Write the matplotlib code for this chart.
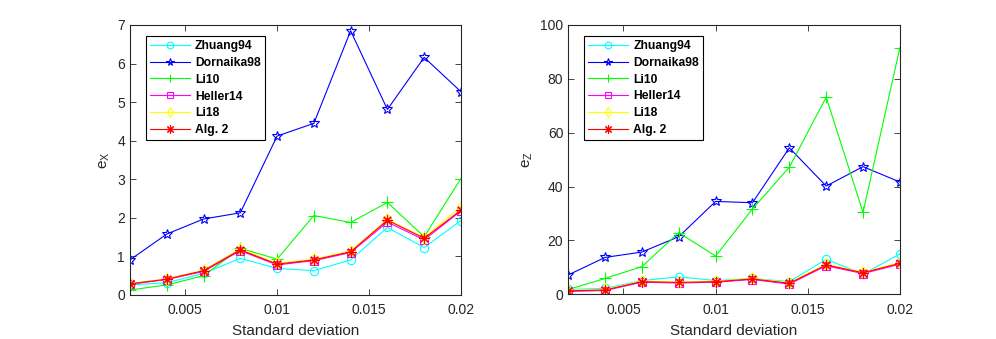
import matplotlib
matplotlib.use("Agg")
import matplotlib.pyplot as plt

plt.rcParams['font.family'] = ['Liberation Sans', 'DejaVu Sans']
plt.rcParams['mathtext.fontset'] = 'custom'
plt.rcParams['mathtext.rm'] = 'Liberation Sans'

std_dev = [0.002, 0.004, 0.006, 0.008, 0.010, 0.012, 0.014, 0.016, 0.018, 0.020]
methods = ['Zhuang94', 'Dornaika98', 'Li10', 'Heller14', 'Li18', 'Alg. 2']

# e_X (left panel)
ex_zhuang94 = [0.26, 0.32, 0.56, 0.95, 0.69, 0.63, 0.91, 1.75, 1.23, 1.93]
ex_dornaika98 = [0.91, 1.58, 1.97, 2.13, 4.12, 4.45, 6.85, 4.81, 6.16, 5.27]
ex_li10 = [0.13, 0.26, 0.50, 1.21, 0.93, 2.06, 1.88, 2.40, 1.51, 3.02]
ex_heller14 = [0.28, 0.40, 0.61, 1.15, 0.78, 0.89, 1.10, 1.89, 1.43, 2.18]
ex_li18 = [0.30, 0.42, 0.64, 1.20, 0.82, 0.93, 1.14, 1.96, 1.49, 2.29]
ex_alg2 = [0.29, 0.41, 0.63, 1.17, 0.80, 0.91, 1.12, 1.94, 1.47, 2.20]

# e_Z (right panel)
ez_zhuang94 = [1.8, 2.2, 5.1, 6.5, 5.1, 5.9, 4.7, 13.0, 7.5, 15.0]
ez_dornaika98 = [7.2, 13.7, 15.7, 21.4, 34.5, 34.0, 54.4, 40.2, 47.4, 41.7]
ez_li10 = [1.8, 5.9, 10.3, 22.9, 14.2, 31.7, 47.2, 73.2, 30.4, 91.6]
ez_heller14 = [1.1, 1.4, 4.5, 4.2, 4.5, 5.5, 3.8, 10.6, 7.7, 11.2]
ez_li18 = [1.5, 1.8, 4.9, 4.6, 4.9, 5.9, 4.3, 11.2, 8.2, 11.8]
ez_alg2 = [1.3, 1.6, 4.7, 4.4, 4.7, 5.7, 4.1, 10.9, 8.0, 11.5]

x_ticks = [0.005, 0.01, 0.015, 0.02]
x_ticklabels = ['0.005', '0.01', '0.015', '0.02']
ex_ticks = [0, 1, 2, 3, 4, 5, 6, 7]
ez_ticks = [0, 20, 40, 60, 80, 100]

# MATLAB-like markers: o, pentagram, +, square, diamond, asterisk
styles = [
    dict(color=(0, 1, 1), marker='o', ms=6),
    dict(color=(0, 0, 1), marker='*', ms=7),
    dict(color=(0, 1, 0), marker='+', ms=8),
    dict(color=(1, 0, 1), marker='s', ms=5.5),
    dict(color=(1, 1, 0), marker='d', ms=6),
    dict(color=(1, 0, 0), marker=(8, 2, 0), ms=7.5),
]

fig = plt.figure(figsize=(9.96, 3.39), dpi=100)
ax1 = fig.add_axes([0.1305, 0.1298, 0.3323, 0.7965])
ax2 = fig.add_axes([0.5705, 0.1318, 0.3330, 0.7945])

panels = [
    (ax1, [ex_zhuang94, ex_dornaika98, ex_li10, ex_heller14, ex_li18, ex_alg2], ex_ticks, (0, 7), r'e$_{\mathrm{X}}$'),
    (ax2, [ez_zhuang94, ez_dornaika98, ez_li10, ez_heller14, ez_li18, ez_alg2], ez_ticks, (0, 100), r'e$_{\mathrm{Z}}$'),
]

tick_color = (0.15, 0.15, 0.15)
for ax, series, yt, ylim, ylab in panels:
    for name, vals, st in zip(methods, series, styles):
        ax.plot(std_dev, vals, color=st['color'], marker=st['marker'],
                markerfacecolor='none', markeredgecolor=st['color'],
                markersize=st['ms'], linewidth=0.8, markeredgewidth=0.8, label=name)
    ax.set_xlim(0.002, 0.02)
    ax.set_ylim(*ylim)
    ax.set_xticks(x_ticks)
    ax.set_xticklabels(x_ticklabels)
    ax.set_yticks(yt)
    ax.tick_params(direction='in', top=True, right=True, length=4,
                   labelsize=10, colors=tick_color, width=0.6)
    ax.tick_params(axis='x', pad=6)
    for sp in ax.spines.values():
        sp.set_linewidth(0.8)
        sp.set_color(tick_color)
    ax.set_xlabel('Standard deviation', fontsize=11, color=tick_color, labelpad=5)
    ax.set_ylabel(ylab, fontsize=11, color=tick_color, labelpad=4)
    leg = ax.legend(loc='upper left', bbox_to_anchor=(0.047, 0.96),
                    prop={'weight': 'bold', 'size': 8.7},
                    handlelength=3.3, handletextpad=0.45, labelspacing=0.4,
                    borderpad=0.35, borderaxespad=0, fancybox=False, framealpha=1,
                    edgecolor='black', markerscale=0.8)
    leg.get_frame().set_linewidth(0.8)

fig.savefig('out.png', dpi=100)
